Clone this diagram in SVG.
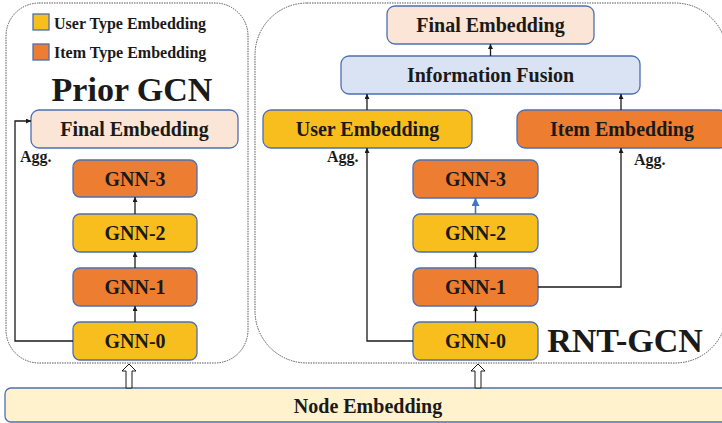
<svg xmlns="http://www.w3.org/2000/svg" width="722" height="423" viewBox="0 0 722 423">
  <style>
    text { font-family: "Liberation Serif", "Times New Roman", serif; font-weight: bold; fill: #1a1a1a; }
    .lbl { font-size: 20px; text-anchor: middle; }
    .agg { font-size: 16px; }
    .title { font-size: 34px; text-anchor: middle; }
    .legend { font-size: 16px; }
    .box { stroke: #4d6fb3; stroke-width: 1.3; }
    .user { fill: #f8be1e; }
    .item { fill: #ed7d31; }
    .final { fill: #fbe5d6; }
    .fusion { fill: #dae3f3; }
    .base { fill: #fff2cc; }
    .panel { fill: none; stroke: #555; stroke-width: 1; stroke-dasharray: 1.5 1; }
    .wire { fill: none; stroke: #1a1a1a; stroke-width: 1.3; }
    .wire-blue { fill: none; stroke: #4472c4; stroke-width: 1.6; }
    .hollow { fill: #fff; stroke: #1a1a1a; stroke-width: 1; }
  </style>
  <defs>
    <marker id="tip" viewBox="0 0 10 10" refX="10" refY="5" markerWidth="5" markerHeight="5" markerUnits="userSpaceOnUse" orient="auto">
      <path d="M0,0 L10,5 L0,10 z" fill="#1a1a1a"/>
    </marker>
    <marker id="tip-blue" viewBox="0 0 10 10" refX="10" refY="5" markerWidth="8" markerHeight="8" markerUnits="userSpaceOnUse" orient="auto">
      <path d="M0,0 L10,5 L0,10 z" fill="#4472c4"/>
    </marker>
  </defs>

  <!-- dotted panels -->
  <g id="prior-panel">
    <rect class="panel" x="6" y="3" width="242" height="360" rx="33"/>
    <text class="title" x="132" y="101">Prior GCN</text>
  </g>
  <g id="rnt-panel">
    <rect class="panel" x="255" y="3" width="472" height="360" rx="52"/>
    <text class="title" x="625" y="352">RNT-GCN</text>
  </g>

  <!-- legend -->
  <g id="legend">
    <rect class="box user" x="33" y="14" width="16" height="16"/>
    <text class="legend" x="54" y="29">User Type Embedding</text>
    <rect class="box item" x="33" y="44" width="16" height="16"/>
    <text class="legend" x="54" y="58">Item Type Embedding</text>
  </g>

  <!-- Prior GCN stack -->
  <g id="prior-final">
    <rect class="box final" x="31" y="110" width="207" height="38" rx="8"/>
    <text class="lbl" x="134.5" y="136">Final Embedding</text>
  </g>
  <g id="prior-gnn3">
    <rect class="box item" x="73" y="160" width="124" height="37" rx="7"/>
    <text class="lbl" x="135" y="185.5">GNN-3</text>
  </g>
  <g id="prior-gnn2">
    <rect class="box user" x="73" y="214" width="124" height="38" rx="7"/>
    <text class="lbl" x="135" y="240">GNN-2</text>
  </g>
  <g id="prior-gnn1">
    <rect class="box item" x="73" y="268" width="124" height="38" rx="7"/>
    <text class="lbl" x="135" y="294">GNN-1</text>
  </g>
  <g id="prior-gnn0">
    <rect class="box user" x="73" y="322" width="124" height="38" rx="7"/>
    <text class="lbl" x="135" y="348">GNN-0</text>
  </g>

  <!-- RNT-GCN stack -->
  <g id="rnt-final">
    <rect class="box final" x="387" y="6" width="207" height="38" rx="8"/>
    <text class="lbl" x="490.5" y="32">Final Embedding</text>
  </g>
  <g id="rnt-fusion">
    <rect class="box fusion" x="341" y="56" width="299" height="38" rx="8"/>
    <text class="lbl" x="490.5" y="82">Information Fusion</text>
  </g>
  <g id="rnt-user">
    <rect class="box user" x="263" y="110" width="209" height="38" rx="8"/>
    <text class="lbl" x="367.5" y="136">User Embedding</text>
  </g>
  <g id="rnt-item">
    <rect class="box item" x="517" y="110" width="210" height="38" rx="8"/>
    <text class="lbl" x="622" y="136">Item Embedding</text>
  </g>
  <g id="rnt-gnn3">
    <rect class="box item" x="413" y="160" width="125" height="38" rx="7"/>
    <text class="lbl" x="475.5" y="186">GNN-3</text>
  </g>
  <g id="rnt-gnn2">
    <rect class="box user" x="413" y="214" width="125" height="38" rx="7"/>
    <text class="lbl" x="475.5" y="240">GNN-2</text>
  </g>
  <g id="rnt-gnn1">
    <rect class="box item" x="413" y="268" width="125" height="38" rx="7"/>
    <text class="lbl" x="475.5" y="294">GNN-1</text>
  </g>
  <g id="rnt-gnn0">
    <rect class="box user" x="413" y="322" width="125" height="38" rx="7"/>
    <text class="lbl" x="475.5" y="348">GNN-0</text>
  </g>

  <!-- shared input -->
  <g id="node-embedding">
    <rect class="box base" x="5" y="388" width="730" height="34" rx="6"/>
    <text class="lbl" x="368" y="413">Node Embedding</text>
  </g>

  <!-- connectors -->
  <g id="connectors">
    <!-- Prior GCN -->
    <line class="wire" x1="135" y1="322" x2="135" y2="306" marker-end="url(#tip)"/>
    <line class="wire" x1="135" y1="268" x2="135" y2="252" marker-end="url(#tip)"/>
    <line class="wire" x1="135" y1="214" x2="135" y2="197" marker-end="url(#tip)"/>
    <polyline class="wire" points="73,341 15,341 15,121 31,121" marker-end="url(#tip)"/>
    <text class="agg" x="20" y="162">Agg.</text>

    <!-- RNT-GCN -->
    <line class="wire" x1="475.5" y1="322" x2="475.5" y2="306" marker-end="url(#tip)"/>
    <line class="wire" x1="475.5" y1="268" x2="475.5" y2="252" marker-end="url(#tip)"/>
    <line class="wire-blue" x1="475.5" y1="214" x2="475.5" y2="198" marker-end="url(#tip-blue)"/>
    <polyline class="wire" points="413,341 367,341 367,148" marker-end="url(#tip)"/>
    <text class="agg" x="327" y="162">Agg.</text>
    <polyline class="wire" points="538,287 621,287 621,148" marker-end="url(#tip)"/>
    <text class="agg" x="634" y="165">Agg.</text>
    <line class="wire" x1="367" y1="110" x2="367" y2="94" marker-end="url(#tip)"/>
    <line class="wire" x1="621" y1="110" x2="621" y2="94" marker-end="url(#tip)"/>
    <line class="wire" x1="490.5" y1="56" x2="490.5" y2="44" marker-end="url(#tip)"/>

    <!-- hollow input arrows -->
    <polygon class="hollow" points="129,364 136,371 132,371 132,388 126,388 126,371 122,371"/>
    <polygon class="hollow" points="478,364 485,371 481,371 481,388 475,388 475,371 471,371"/>
  </g>
</svg>
